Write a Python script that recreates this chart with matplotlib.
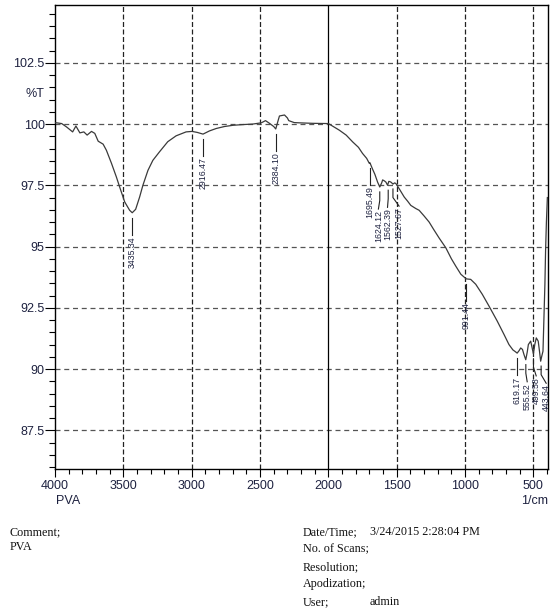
import matplotlib.pyplot as plt
from matplotlib.ticker import MultipleLocator, FuncFormatter
from matplotlib.transforms import blended_transform_factory

# FTIR spectrum of PVA (wavenumber in 1/cm, transmittance in %T)
wavenumber = [4000, 3988, 3951, 3915, 3871, 3847, 3818, 3789, 3765, 3733,
              3709, 3684, 3648, 3624, 3587, 3551, 3527, 3490, 3454, 3435,
              3410, 3381, 3357, 3320, 3284, 3235, 3175, 3114, 3041, 2998,
              2960, 2917, 2870, 2820, 2760, 2698, 2620, 2553, 2491, 2460,
              2431, 2400, 2385, 2370, 2358, 2321, 2300, 2290, 2250, 2212,
              2115, 2000, 1920, 1870, 1822, 1780, 1750, 1720, 1701, 1696,
              1676, 1660, 1640, 1624, 1610, 1603, 1590, 1579, 1567, 1558,
              1550, 1540, 1528, 1515, 1506, 1482, 1445, 1420, 1397, 1360,
              1336, 1300, 1263, 1230, 1190, 1141, 1100, 1068, 1031, 1000,
              991, 959, 922, 874, 825, 765, 715, 679, 650, 635,
              619, 605, 593, 580, 569, 556, 545, 537, 520, 507,
              500, 490, 479, 465, 455, 447, 440, 430, 416, 411,
              405, 398]
transmittance = [100.05, 100.05, 100.02, 99.88, 99.68, 99.92, 99.64, 99.68, 99.55, 99.70,
                 99.62, 99.30, 99.18, 98.93, 98.40, 97.84, 97.43, 96.82, 96.48, 96.38,
                 96.52, 97.02, 97.50, 98.11, 98.52, 98.87, 99.28, 99.52, 99.68, 99.70,
                 99.66, 99.59, 99.72, 99.82, 99.90, 99.95, 99.98, 100.00, 100.05, 100.14,
                 100.03, 99.90, 99.80, 100.10, 100.33, 100.37, 100.25, 100.14, 100.06, 100.05,
                 100.03, 100.02, 99.75, 99.55, 99.27, 99.05, 98.80, 98.60, 98.40, 98.42,
                 98.15, 97.95, 97.63, 97.43, 97.60, 97.72, 97.68, 97.63, 97.50, 97.66,
                 97.65, 97.62, 97.55, 97.60, 97.57, 97.36, 97.02, 96.85, 96.68, 96.55,
                 96.48, 96.25, 96.00, 95.70, 95.35, 94.95, 94.50, 94.20, 93.87, 93.72,
                 93.68, 93.66, 93.46, 93.05, 92.57, 91.96, 91.41, 91.00, 90.78, 90.72,
                 90.65, 90.75, 90.86, 90.80, 90.59, 90.38, 90.70, 91.00, 91.14, 90.80,
                 90.62, 91.00, 91.27, 91.14, 90.70, 90.32, 90.50, 90.73, 93.46, 94.84,
                 96.00, 97.00]

# picked peaks
peak_wn = [3435.34, 2916.47, 2384.10, 1695.49, 1624.12, 1562.39, 1527.67,
           991.44, 619.17, 555.52, 499.58, 443.64]
peak_t = [96.38, 99.59, 99.80, 98.42, 97.43, 97.50, 97.55,
          93.68, 90.65, 90.38, 90.62, 90.32]
# sideways nudge of crowded labels (1/cm)
label_shift = [0, 0, 0, 0, 10, 5, -45, 0, 0, -10, -20, -37]

sample_name = "PVA"
info_labels = ["Date/Time;", "No. of Scans;", "Resolution;", "Apodization;", "User;"]
info_values = ["3/24/2015 2:28:04 PM", "", "", "", "admin"]

W, H = 556, 608
fig = plt.figure(figsize=(W / 100, H / 100), dpi=100)
ax = fig.add_axes([55 / W, 1 - 468.5 / H, 492.5 / W, 463.5 / H])

ax.plot(wavenumber, transmittance, color="#3a3a3a", lw=0.9, zorder=3)

ax.set_xlim(4000, 397)
ax.set_ylim(85.94, 104.86)

ax.xaxis.set_major_locator(MultipleLocator(500))
ax.xaxis.set_minor_locator(MultipleLocator(100))
ax.yaxis.set_major_locator(MultipleLocator(2.5))
ax.yaxis.set_minor_locator(MultipleLocator(0.5))
ax.yaxis.set_major_formatter(FuncFormatter(lambda v, p: "%g" % v))
ax.xaxis.set_major_formatter(FuncFormatter(lambda v, p: "%d" % v))

ax.tick_params(axis="x", which="major", direction="out", length=5.5, width=0.8, pad=2.5)
ax.tick_params(axis="x", which="minor", direction="out", length=3.6, width=0.8)
ax.tick_params(axis="y", which="major", direction="out", length=7, width=0.8, pad=0.5)
ax.tick_params(axis="y", which="minor", direction="out", length=4, width=0.8)
for lab in ax.get_xticklabels() + ax.get_yticklabels():
    lab.set_fontfamily("Liberation Sans")
    lab.set_fontsize(9)
    lab.set_color("#1e2240")

for s in ax.spines.values():
    s.set_linewidth(1.0)
    s.set_color("black")

# grid: dashed, with a solid line at 2000
for y in [87.5, 90, 92.5, 95, 97.5, 100, 102.5]:
    ax.axhline(y, color="#555555", lw=0.9, ls=(0, (4, 3)), zorder=1)
for x in [3500, 3000, 2500, 1500, 1000, 500]:
    ax.axvline(x, color="#222222", lw=0.9, ls=(0, (4, 2)), zorder=1)
ax.axvline(2000, color="black", lw=0.9, zorder=1)

# peak markers with leader lines
for wn, t, dx in zip(peak_wn, peak_t, label_shift):
    ax.plot([wn, wn, wn + dx], [t - 0.2, t - 0.55, t - 0.9],
            color="#222222", lw=0.8, zorder=4)
    ax.text(wn + dx, t - 0.95, "%.2f" % wn, rotation=90, ha="center", va="top",
            fontsize=6.3, family="Liberation Sans", color="#1e2240", zorder=4)

trans = blended_transform_factory(ax.transAxes, ax.transData)
ax.text(-0.022, 101.22, "%T", transform=trans, ha="right", va="center",
        fontsize=9, family="Liberation Sans", color="#1e2240")

fig.text(68 / W, 1 - 501 / H, sample_name, ha="center", va="center",
         fontsize=9, family="Liberation Sans", color="#1e2240")
fig.text(535 / W, 1 - 501 / H, "1/cm", ha="center", va="center",
         fontsize=9, family="Liberation Sans", color="#1e2240")

serif = dict(fontsize=8.7, family="Liberation Serif", color="#111111", va="baseline")
fig.text(10 / W, 1 - 535 / H, "Comment;", **serif)
fig.text(10 / W, 1 - 550 / H, sample_name, **serif)
for i, (k, v) in enumerate(zip(info_labels, info_values)):
    y = 535 + i * 17.5
    fig.text(303 / W, 1 - y / H, k, **serif)
    if v:
        fig.text(370 / W, 1 - y / H, v, **serif)

fig.savefig("out.png", dpi=100)
